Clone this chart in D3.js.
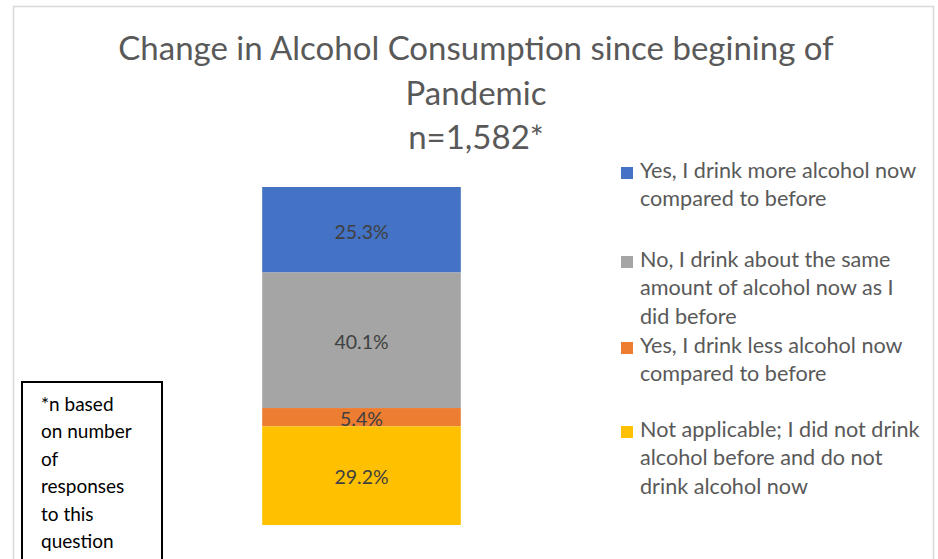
<!DOCTYPE html>
<html><head><meta charset="utf-8">
<script src="https://cdn.jsdelivr.net/npm/d3@7"></script>
<style>
body{margin:0;background:#fff;}
svg{display:block;font-family:Lato,"Open Sans",sans-serif;}
</style></head>
<body><svg id="c" width="938" height="559"></svg>
<script>
const titleLines = ["Change in Alcohol Consumption since begining of", "Pandemic", "n=1,582*"];
const categories = [
  "Yes, I drink more alcohol now compared to before",
  "No, I drink about the same amount of alcohol now as I did before",
  "Yes, I drink less alcohol now compared to before",
  "Not applicable; I did not drink alcohol before and do not drink alcohol now"
];
const legendLines = [
  ["Yes, I drink more alcohol now", "compared to before"],
  ["No, I drink about the same", "amount of alcohol now as I", "did before"],
  ["Yes, I drink less alcohol now", "compared to before"],
  ["Not applicable; I did not drink", "alcohol before and do not", "drink alcohol now"]
];
const values = [25.3, 40.1, 5.4, 29.2];
const labels = ["25.3%", "40.1%", "5.4%", "29.2%"];
const colors = ["#4472C4", "#A5A5A5", "#ED7D31", "#FFC000"];
const noteLines = ["*n based", "on number", "of", "responses", "to this", "question"];

const svg = d3.select("#c");
svg.append("rect").attr("width",938).attr("height",559).attr("fill","#fff");
// chart frame
svg.append("rect").attr("x",13.5).attr("y",6.5).attr("width",920).attr("height",600)
  .attr("fill","none").attr("stroke","#d9d9d9").attr("stroke-width",1.5);

// title
svg.append("g").selectAll("text").data(titleLines).join("text")
  .attr("x",476).attr("y",(d,i)=>60+i*44.5)
  .attr("text-anchor","middle").attr("fill","#595959")
  .attr("font-size",33).attr("font-weight",400)
  .text(d=>d);

// stacked bar
const y = d3.scaleLinear().domain([0,100]).range([525,187]);
const x = d3.scaleBand().domain(["all"]).range([196,527]).padding(0.25);
let acc = 100;
const segs = values.map((v,i)=>{ const top=acc; acc-=v; return {i,v,top,bot:acc}; });
const g = svg.append("g");
g.selectAll("rect").data(segs).join("rect")
  .attr("x",x("all")).attr("width",x.bandwidth())
  .attr("y",d=>y(d.top)).attr("height",d=>y(d.bot)-y(d.top))
  .attr("fill",d=>colors[d.i]);
g.selectAll("text").data(segs).join("text")
  .attr("x",x("all")+x.bandwidth()/2)
  .attr("y",d=>(y(d.top)+y(d.bot))/2)
  .attr("dy","0.45em")
  .attr("text-anchor","middle").attr("fill","#404040").attr("font-size",19.5)
  .text(d=>labels[d.i]);

// legend
const legendBase = [178, 267, 353, 437];
const lg = svg.append("g");
legendLines.forEach((lines,i)=>{
  lg.append("rect").attr("x",621).attr("y",legendBase[i]-11).attr("width",12).attr("height",12)
    .attr("fill",colors[i]);
  lines.forEach((t,j)=>{
    lg.append("text").attr("x",640).attr("y",legendBase[i]+j*28.3)
      .attr("fill","#595959").attr("font-size",21.6).text(t);
  });
});

// footnote box
svg.append("rect").attr("x",22).attr("y",382).attr("width",140).attr("height",200)
  .attr("fill","#fff").attr("stroke","#000").attr("stroke-width",2);
svg.append("g").selectAll("text").data(noteLines).join("text")
  .attr("x",41).attr("y",(d,i)=>411+i*27.4)
  .attr("fill","#000").attr("font-size",19).text(d=>d);
</script></body></html>
